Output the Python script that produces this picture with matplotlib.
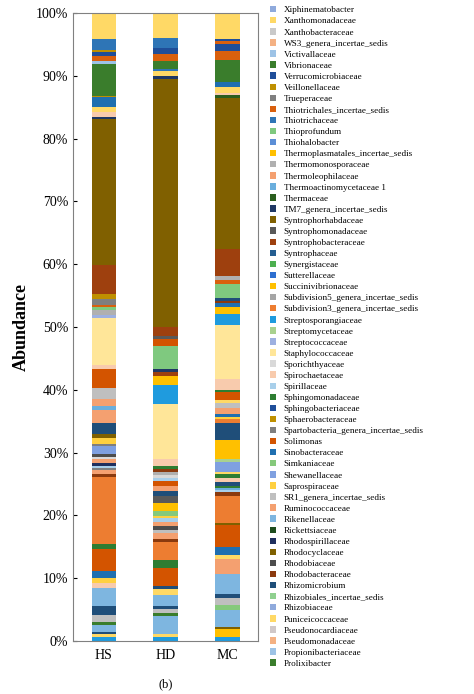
import numpy as np
import matplotlib
matplotlib.use('Agg')
from matplotlib import pyplot as plt
from matplotlib.patches import Patch

plt.rcParams['font.family'] = ['Liberation Serif', 'DejaVu Serif']

# legend entries, top to bottom, with their colours
taxa = ['Xiphinematobacter', 'Xanthomonadaceae', 'Xanthobacteraceae', 'WS3_genera_incertae_sedis',
        'Victivallaceae', 'Vibrionaceae', 'Verrucomicrobiaceae', 'Veillonellaceae', 'Trueperaceae',
        'Thiotrichales_incertae_sedis', 'Thiotrichaceae', 'Thioprofundum', 'Thiohalobacter',
        'Thermoplasmatales_incertae_sedis', 'Thermomonosporaceae', 'Thermoleophilaceae',
        'Thermoactinomycetaceae 1', 'Thermaceae', 'TM7_genera_incertae_sedis', 'Syntrophorhabdaceae',
        'Syntrophomonadaceae', 'Syntrophobacteraceae', 'Syntrophaceae', 'Synergistaceae',
        'Sutterellaceae', 'Succinivibrionaceae', 'Subdivision5_genera_incertae_sedis',
        'Subdivision3_genera_incertae_sedis', 'Streptosporangiaceae', 'Streptomycetaceae',
        'Streptococcaceae', 'Staphylococcaceae', 'Sporichthyaceae', 'Spirochaetaceae', 'Spirillaceae',
        'Sphingomonadaceae', 'Sphingobacteriaceae', 'Sphaerobacteraceae',
        'Spartobacteria_genera_incertae_sedis', 'Solimonas', 'Sinobacteraceae', 'Simkaniaceae',
        'Shewanellaceae', 'Saprospiraceae', 'SR1_genera_incertae_sedis', 'Ruminococcaceae',
        'Rikenellaceae', 'Rickettsiaceae', 'Rhodospirillaceae', 'Rhodocyclaceae', 'Rhodobiaceae',
        'Rhodobacteraceae', 'Rhizomicrobium', 'Rhizobiales_incertae_sedis', 'Rhizobiaceae',
        'Puniceicoccaceae', 'Pseudonocardiaceae', 'Pseudomonadaceae', 'Propionibacteriaceae',
        'Prolixibacter']
taxa_colors = ['#8FAADC', '#FFD966', '#C9C9C9', '#F4B183', '#9DC3E6', '#3A7D2C', '#1F4E99', '#BF9000',
               '#7F7F7F', '#D9600E', '#2E75B6', '#7FC97F', '#5B8ED6', '#FFC000', '#B0B0B0', '#F4A070',
               '#6AAEDD', '#2B5E1E', '#1F3864', '#806000', '#595959', '#9E400E', '#255E91', '#4CAF50',
               '#2E6FD0', '#FFC000', '#A5A5A5', '#ED7D31', '#1F9BDE', '#A9D18E', '#9DB0E0', '#FFE699',
               '#D9D9D9', '#F8CBAD', '#A8CFEA', '#2E7D32', '#1F4E99', '#BF9000', '#7F7F7F', '#D35400',
               '#1F6FB0', '#85C97B', '#7FA0E0', '#FFD040', '#BFBFBF', '#F4A070', '#7EB6E0', '#1E4D1E',
               '#1F2F5E', '#7F6000', '#4D4D4D', '#8B3A0E', '#1F4E79', '#8FD08F', '#8FAADC', '#FFD966',
               '#D0C8C8', '#F4B183', '#9DC3E6', '#3A7D2C']

samples = ['HS', 'HD', 'MC']

# segments bottom-up, (taxon, abundance %)
hs_taxa = ['Streptosporangiaceae', 'Puniceicoccaceae', 'Rhizomicrobium', 'Rikenellaceae', 'Prolixibacter',
           'SR1_genera_incertae_sedis', 'Rhizomicrobium', 'Rikenellaceae', 'Spirochaetaceae', 'Saprospiraceae',
           'Sinobacteraceae', 'Solimonas', 'Sphingomonadaceae', 'Subdivision3_genera_incertae_sedis',
           'Rhodobacteraceae', 'Thermoleophilaceae', 'Trueperaceae', 'Spirillaceae', 'Rhodospirillaceae',
           'Ruminococcaceae', 'Sporichthyaceae', 'Rhodobiaceae', 'Shewanellaceae',
           'Spartobacteria_genera_incertae_sedis', 'Saprospiraceae', 'Rhodocyclaceae', 'Rhizomicrobium',
           'Thermoleophilaceae', 'Thermoactinomycetaceae 1', 'Ruminococcaceae', 'SR1_genera_incertae_sedis',
           'Solimonas', 'Spirochaetaceae', 'Staphylococcaceae', 'Streptococcaceae', 'Thermomonosporaceae',
           'Thioprofundum', 'Thiotrichales_incertae_sedis', 'Trueperaceae', 'Veillonellaceae',
           'Syntrophobacteraceae', 'Syntrophorhabdaceae', 'TM7_genera_incertae_sedis', 'Spirochaetaceae',
           'Xanthomonadaceae', 'Sinobacteraceae', 'Veillonellaceae', 'Vibrionaceae', 'Victivallaceae',
           'Thiotrichales_incertae_sedis', 'Verrucomicrobiaceae', 'Veillonellaceae', 'Thiotrichaceae',
           'Xanthomonadaceae']
hs_values = [0.6, 0.5, 0.3, 1.2, 0.4, 1.1, 1.4, 2.9, 0.7, 0.8, 1.1, 3.6, 0.7, 10.7, 0.4, 0.6, 0.4, 0.3, 0.5,
             0.5, 0.4, 0.4, 1.3, 0.3, 1.0, 0.7, 1.6, 2.1, 0.6, 1.2, 1.7, 3.0, 0.6, 7.4, 0.5, 0.8, 0.5, 0.4,
             0.8, 0.8, 4.6, 23.1, 0.3, 0.8, 0.8, 1.6, 0.2, 5.0, 0.5, 0.8, 0.7, 0.3, 1.7, 4.1]

hd_taxa = ['Streptosporangiaceae', 'Puniceicoccaceae', 'Rikenellaceae', 'Prolixibacter',
           'SR1_genera_incertae_sedis', 'Rhizomicrobium', 'Rikenellaceae', 'Xanthomonadaceae', 'Rhizomicrobium',
           'Solimonas', 'Sphingomonadaceae', 'Subdivision3_genera_incertae_sedis', 'Rhodobacteraceae',
           'Thermoleophilaceae', 'SR1_genera_incertae_sedis', 'Rhodobiaceae', 'Ruminococcaceae', 'Spirillaceae',
           'Saprospiraceae', 'Simkaniaceae', 'Succinivibrionaceae', 'Syntrophomonadaceae', 'Rhizomicrobium',
           'Thermoleophilaceae', 'Solimonas', 'Spirillaceae', 'Sporichthyaceae', 'Thermomonosporaceae',
           'Rhodobacteraceae', 'Sphingomonadaceae', 'Spirochaetaceae', 'Staphylococcaceae',
           'Streptosporangiaceae', 'Succinivibrionaceae', 'Syntrophobacteraceae', 'TM7_genera_incertae_sedis',
           'Thioprofundum', 'Solimonas', 'Syntrophomonadaceae', 'Syntrophobacteraceae', 'Syntrophorhabdaceae',
           'TM7_genera_incertae_sedis', 'Xanthomonadaceae', 'Thiotrichaceae', 'Vibrionaceae',
           'Thiotrichales_incertae_sedis', 'Verrucomicrobiaceae', 'Thiotrichaceae', 'Xanthomonadaceae']
hd_values = [0.7, 0.4, 2.9, 0.4, 0.7, 0.4, 1.8, 0.9, 0.4, 2.8, 1.4, 2.7, 0.6, 0.8, 0.6, 0.5, 0.7, 0.6, 0.4,
             0.7, 1.3, 1.1, 0.8, 0.8, 0.7, 0.5, 0.5, 0.4, 0.5, 0.5, 1.1, 8.7, 2.9, 1.5, 0.5, 0.5, 3.7, 1.1,
             0.4, 1.4, 39.0, 0.5, 0.8, 0.3, 1.2, 1.2, 0.9, 1.5, 4.0]

mc_taxa = ['Streptosporangiaceae', 'Succinivibrionaceae', 'Rhodocyclaceae', 'Rikenellaceae', 'Simkaniaceae',
           'SR1_genera_incertae_sedis', 'Rhizomicrobium', 'Rikenellaceae', 'Ruminococcaceae', 'Xanthomonadaceae',
           'Sinobacteraceae', 'Solimonas', 'Rhodocyclaceae', 'Subdivision3_genera_incertae_sedis',
           'Rhodobacteraceae', 'Spirillaceae', 'Thermoactinomycetaceae 1', 'Sphingomonadaceae', 'Rhizomicrobium',
           'Spirochaetaceae', 'Sphingomonadaceae', 'Xanthomonadaceae', 'Shewanellaceae', 'Streptomycetaceae',
           'Succinivibrionaceae', 'Rhizomicrobium', 'Subdivision3_genera_incertae_sedis', 'Saprospiraceae',
           'Sinobacteraceae', 'Ruminococcaceae', 'SR1_genera_incertae_sedis', 'Xanthomonadaceae', 'Solimonas',
           'Sphingomonadaceae', 'Spirochaetaceae', 'Staphylococcaceae', 'Streptosporangiaceae',
           'Succinivibrionaceae', 'Sinobacteraceae', 'Rhodobacteraceae', 'Rhizomicrobium', 'Thioprofundum',
           'Thiotrichales_incertae_sedis', 'Thermomonosporaceae', 'Syntrophobacteraceae', 'Syntrophorhabdaceae',
           'Thermaceae', 'Spirochaetaceae', 'Xanthomonadaceae', 'Sinobacteraceae', 'Vibrionaceae',
           'Thiotrichales_incertae_sedis', 'Verrucomicrobiaceae', 'Thiotrichales_incertae_sedis',
           'Verrucomicrobiaceae', 'Xanthomonadaceae']
mc_values = [0.7, 1.2, 0.4, 2.7, 0.8, 1.0, 0.7, 3.1, 2.4, 0.7, 1.3, 3.4, 0.4, 4.3, 0.6, 0.4, 0.3, 0.3, 0.6,
             0.7, 0.5, 0.4, 1.6, 0.4, 3.0, 2.8, 0.6, 0.4, 0.4, 0.9, 0.8, 0.5, 1.3, 0.4, 1.6, 8.6, 1.8, 1.2,
             0.5, 0.4, 0.5, 2.2, 0.6, 0.6, 4.3, 24.0, 0.5, 0.4, 1.0, 0.7, 3.6, 1.3, 1.2, 0.4, 0.4, 4.1]

color_of = dict(zip(taxa, taxa_colors))

fig = plt.figure(figsize=(4.74, 6.94), dpi=100)
ax = fig.add_axes([73 / 474, 53 / 694, 185 / 474, 628 / 694])

for i, (names, vals) in enumerate([(hs_taxa, hs_values), (hd_taxa, hd_values), (mc_taxa, mc_values)]):
    vals = np.array(vals)
    vals = vals / vals.sum() * 100  # relative abundance
    bottoms = np.concatenate([[0], np.cumsum(vals)[:-1]])
    ax.bar([i] * len(vals), vals, bottom=bottoms, width=0.4,
           color=[color_of[n] for n in names], linewidth=0)

ax.set_xlim(-0.5, 2.5)
ax.set_ylim(0, 100)
ax.set_xticks(range(3))
ax.set_xticklabels(samples, fontsize=10)
ax.set_yticks(range(0, 101, 10))
ax.set_yticklabels([f'{v}%' for v in range(0, 101, 10)], fontsize=10)
ax.tick_params(axis='x', length=0, pad=6)
ax.tick_params(axis='y', length=3, direction='in')
for s in ax.spines.values():
    s.set_color('#808080')
ax.set_ylabel('Abundance', fontsize=13, fontweight='bold')

handles = [Patch(facecolor=c, edgecolor='none') for c in taxa_colors]
fig.legend(handles, taxa, loc='upper left', bbox_to_anchor=(270 / 474, 1 - 6 / 694), frameon=False,
           fontsize=6.6, labelspacing=0.29, handlelength=0.7, handleheight=0.7, handletextpad=0.8,
           borderaxespad=0, borderpad=0)

fig.text(166 / 474, 1 - 684 / 694, '(b)', ha='center', va='center', fontsize=9)

fig.savefig('out.png', dpi=100)
